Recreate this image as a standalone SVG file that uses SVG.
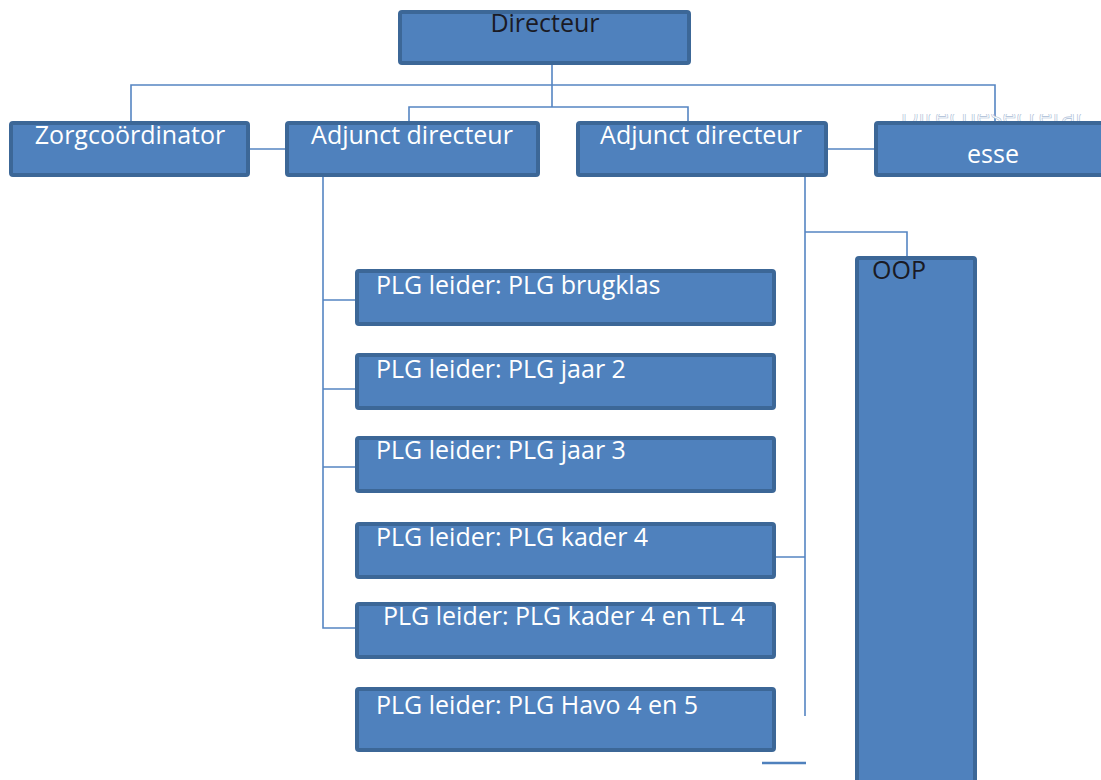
<svg xmlns="http://www.w3.org/2000/svg" width="1101" height="780" viewBox="0 0 1101 780">
<style>
.box{fill:#4f81bd;stroke:#3c6797;stroke-width:4}
.t{font-family:"Open Sans","Liberation Sans",sans-serif;font-size:25px;fill:#ffffff}
.d{fill:#1a1a24}
.c{fill:none;stroke:#5585c2;stroke-width:1.6}
</style>
<defs>
<clipPath id="clipTop"><rect x="870" y="114" width="231" height="10"/></clipPath>
</defs>
<rect width="1101" height="780" fill="#ffffff"/>
<g id="connectors">
<path class="c" d="M552 63V107M409 122V107H688V122"/>
<path class="c" d="M131 122V85H995V122"/>
<path class="c" d="M248 149H286M826 149H874"/>
<path class="c" d="M323 175V628H356M323 300H356M323 389H356M323 467H356"/>
<path class="c" d="M805 175V716M805 232H907V257M775 557H805"/>
<path d="M762 763H806" fill="none" stroke="#4f81bd" stroke-width="2.5"/>
</g>
<g id="secretaresse">
<text class="t" x="993" y="125" text-anchor="middle" clip-path="url(#clipTop)" stroke="#a9bcd6" stroke-width="0.6">Directiesecretar</text>
<rect class="box" x="876" y="123" width="230" height="52" rx="2"/>
<text class="t" x="993" y="163" text-anchor="middle">esse</text>
</g>
<g id="directeur">
<rect class="box" x="400" y="12" width="289" height="51" rx="2"/>
<text class="t d" x="545" y="32" text-anchor="middle">Directeur</text>
</g>
<g id="zorg">
<rect class="box" x="11" y="123" width="237" height="52" rx="2"/>
<text class="t" x="130" y="144" text-anchor="middle">Zorgcoördinator</text>
</g>
<g id="adjunct1">
<rect class="box" x="287" y="123" width="251" height="52" rx="2"/>
<text class="t" x="412" y="144" text-anchor="middle">Adjunct directeur</text>
</g>
<g id="adjunct2">
<rect class="box" x="578" y="123" width="248" height="52" rx="2"/>
<text class="t" x="701" y="144" text-anchor="middle">Adjunct directeur</text>
</g>
<g id="oop">
<rect class="box" x="857" y="258" width="118" height="540" rx="2"/>
<text class="t d" x="872" y="279">OOP</text>
</g>
<g id="plg1">
<rect class="box" x="357" y="271" width="417" height="53" rx="2"/>
<text class="t" x="376" y="294">PLG leider: PLG brugklas</text>
</g>
<g id="plg2">
<rect class="box" x="357" y="355" width="417" height="53" rx="2"/>
<text class="t" x="376" y="378">PLG leider: PLG jaar 2</text>
</g>
<g id="plg3">
<rect class="box" x="357" y="438" width="417" height="53" rx="2"/>
<text class="t" x="376" y="459">PLG leider: PLG jaar 3</text>
</g>
<g id="plg4">
<rect class="box" x="357" y="524" width="417" height="53" rx="2"/>
<text class="t" x="376" y="546">PLG leider: PLG kader 4</text>
</g>
<g id="plg5">
<rect class="box" x="357" y="604" width="417" height="53" rx="2"/>
<text class="t" x="383" y="625">PLG leider: PLG kader 4 en TL 4</text>
</g>
<g id="plg6">
<rect class="box" x="357" y="689" width="417" height="61" rx="2"/>
<text class="t" x="376" y="714">PLG leider: PLG Havo 4 en 5</text>
</g>
</svg>
